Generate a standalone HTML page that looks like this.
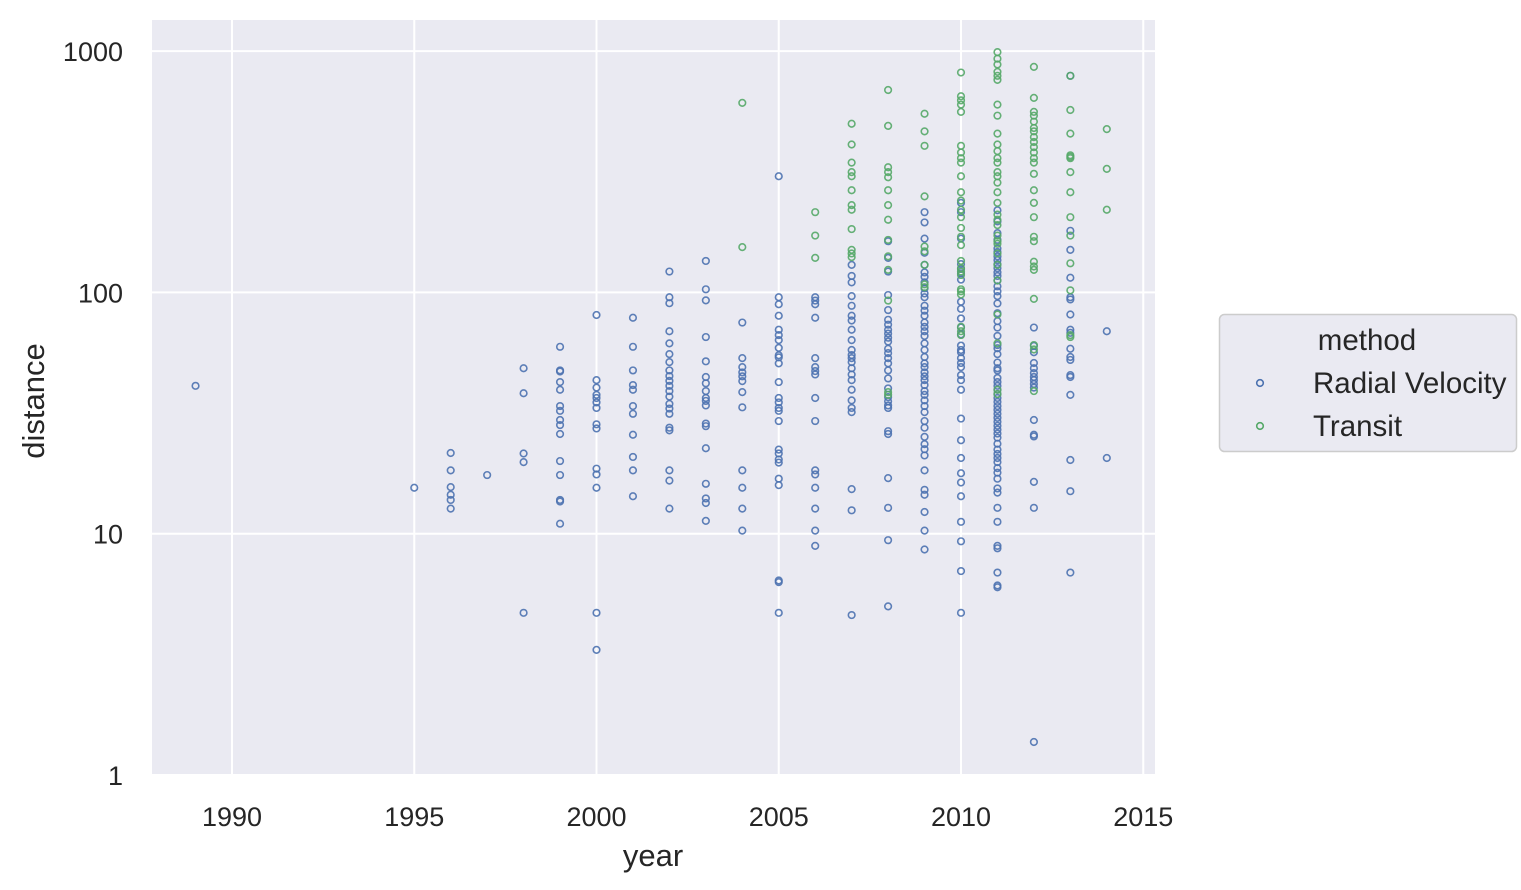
<!DOCTYPE html>
<html><head><meta charset="utf-8"><style>
body{margin:0;background:#fff;}
svg{display:block;font-family:"Liberation Sans",Arial,sans-serif;}
</style></head><body>
<svg id="chart" width="1521" height="890"></svg>
<script>
const years=[1989,1995,1996,1997,1998,1999,2000,2001,2002,2003,2004,2005,2006,2007,2008,2009,2010,2011,2012,2013,2014];
const radialVelocity=[
[41],[15.5],[21.6,18.3,15.6,14.5,13.8,12.7],[17.5],[48.5,38.2,21.5,19.8,4.7],
[59.5,47.5,47,42.5,39.5,33.8,32.3,29.6,28.2,25.9,20,17.5,13.8,13.6,11],
[80.6,43.3,40.3,37.6,36.5,35,33.2,28.4,27.3,18.6,17.6,15.5,4.7,3.3],
[78.5,59.5,47.5,41.3,39.5,33.8,31.4,25.7,20.8,18.3,14.3],
[122,95.5,90.2,69,61.5,55.5,51.4,47.5,45,43,41,39,37,34.5,33,31.4,27.5,26.8,18.3,16.6,12.7],
[135,103,92.7,65.3,51.8,44.6,42,39,36.5,35.5,34,28.6,27.9,22.6,16.1,14,13.4,11.3],
[75,53.4,49,46.6,44.9,42.9,38.6,33.4,18.3,15.5,12.7,10.3],
[303,95.5,89.3,80,70,66.5,63.4,58.9,54.9,53.8,50.8,42.5,36.5,35,33.2,32.3,29.3,22.3,21.5,20.3,19.7,16.9,15.9,6.4,6.3,4.7],
[95.5,92.5,89.3,78.5,53.4,49,47.2,45.7,36.5,29.3,18.3,17.6,15.5,12.7,10.3,8.9],
[130,117,110,96.5,88,80,76.5,70,63.4,57.7,55,53.4,51.4,48.5,45.7,43.3,39.5,35.7,33.2,31.9,15.3,12.5,4.6],
[163,139,122,97.5,84.5,77,73.5,70,67.5,64.9,62.5,58.4,56,53.4,50.8,47.5,44,40,36.8,35.4,34,33.2,26.6,25.9,17,12.8,9.4,5],
[215,195,167,146,130,121,116,110,104,99,95.5,88,84,80,75,72,69,66,61.5,57.7,54,50.8,49,46.6,44.9,43.3,41.3,39,37.6,35.7,33.8,31.9,29.3,27.5,25.2,23.5,22.4,21.1,18.3,15.2,14.5,12.3,10.3,8.6],
[235,215,167,131,125,120,113,91.5,85.5,78,71.5,67,60.2,57.7,56.5,53.4,51,49,45.4,43.3,39.5,30,24.4,20.6,17.8,16.3,14.3,11.2,9.3,7,4.7],
[219,197,176,165,152,147,141,136,131,126,121,117,112,106,101,96.5,90,82,76,71.5,66,60.5,58.7,55.5,51.2,48.5,47.5,44.2,42.5,41,39.5,37.9,36.5,35.2,33.8,32.6,31.4,30.2,29.1,28,27,26,25,23.6,22.3,21.4,20.6,19.8,18.7,17.9,16.9,15.4,14.8,12.8,11.2,8.9,8.7,6.9,6.1,6],
[71.5,60,56.5,51,48.5,46.3,44.6,43.3,41.7,40.3,29.6,25.7,25.3,16.4,12.8,1.37],
[790,180,150,115,95.5,93.5,81,70,68,58.4,54,52.5,45.4,44.6,37.6,20.2,15,6.9],
[69,20.6]];
const transit=[
[],[],[],[],[],[],[],[],[],[],[610,154],[],[215,172,139],
[500,410,345,315,303,265,230,220,183,150,145,140],
[690,490,330,315,300,265,230,200,165,141,124,92.5,38.6,37.6],
[550,465,405,250,155,148,130,108,105],
[815,650,625,600,560,405,380,360,345,303,260,240,220,205,185,170,157,135,126,122,118,103,101,98,72,69,66.5],
[990,930,880,820,790,760,600,540,455,410,385,360,345,315,303,285,260,235,210,200,190,172,163,159,145,130,112,81,61.5,39.5,37.9],
[860,640,560,540,510,480,465,440,420,400,380,360,345,310,265,235,205,170,163,134,128,124,94,60.5,58,39],
[790,570,455,370,365,360,315,260,205,172,132,102,66.5,65.3],
[475,325,220]];
const xTicks=[1990,1995,2000,2005,2010,2015];
const yTicks=[1,10,100,1000];

const L=152,R=1155,T=20,B=776;
const x=v=>232+(v-1990)*36.45;
const y=v=>775-Math.log10(v)*241.3;
const NS='http://www.w3.org/2000/svg';
const svg=document.getElementById('chart');
function mk(tag,attrs,parent){const e=document.createElementNS(NS,tag);for(const k in attrs)e.setAttribute(k,attrs[k]);(parent||svg).appendChild(e);return e;}
const bg=mk('rect',{x:L,y:T,width:R-L,height:B-T,fill:'#eaeaf2'});


xTicks.forEach(t=>{
  const g=mk('line',{x1:x(t),x2:x(t),y1:T,y2:B,stroke:'#fff','stroke-width':2});
  
  
  const lb=mk('text',{x:x(t),y:826,'text-anchor':'middle','font-size':27,fill:'#262626'});
  lb.textContent=t;
  
  
});
yTicks.forEach(t=>{
  const g=mk('line',{x1:L,x2:R,y1:y(t),y2:y(t),stroke:'#fff','stroke-width':2});
  
  
  const lb=mk('text',{x:123,y:y(t)+10,'text-anchor':'end','font-size':27,fill:'#262626'});
  lb.textContent=t;
  
  
});
function drawSeries(arr,color,name){
  arr.forEach((vals,i)=>vals.forEach(v=>{
    const c=mk('circle',{cx:x(years[i]),cy:y(v),r:3.3,fill:'none',stroke:color,'stroke-width':1.6,'stroke-opacity':0.9});
    
    
  }));
}
drawSeries(radialVelocity,'#4c72b0','radial-velocity-point');
drawSeries(transit,'#55a868','transit-point');
const xl=mk('text',{x:653,y:866,'text-anchor':'middle','font-size':31,fill:'#262626'});
xl.textContent='year';


const yl=mk('text',{x:0,y:0,'text-anchor':'middle','font-size':31,fill:'#262626',transform:'translate(44,401) rotate(-90)'});
yl.textContent='distance';


const lg=mk('g',{});


mk('rect',{x:1219.5,y:314.5,width:297,height:137,rx:5,fill:'#eaeaf2',stroke:'#cccccc','stroke-width':1.5},lg);
const lt=mk('text',{x:1367,y:350,'text-anchor':'middle','font-size':29.5,fill:'#262626'},lg);
lt.textContent='method';


[['Radial Velocity','#4c72b0',383],['Transit','#55a868',426]].forEach(([n,c,yy])=>{
  const m=mk('circle',{cx:1260,cy:yy,r:3.3,fill:'none',stroke:c,'stroke-width':1.6},lg);
  
  
  const t=mk('text',{x:1313,y:yy+10,'font-size':29.5,fill:'#262626'},lg);
  t.textContent=n;
  
  
});
</script>
</body></html>
